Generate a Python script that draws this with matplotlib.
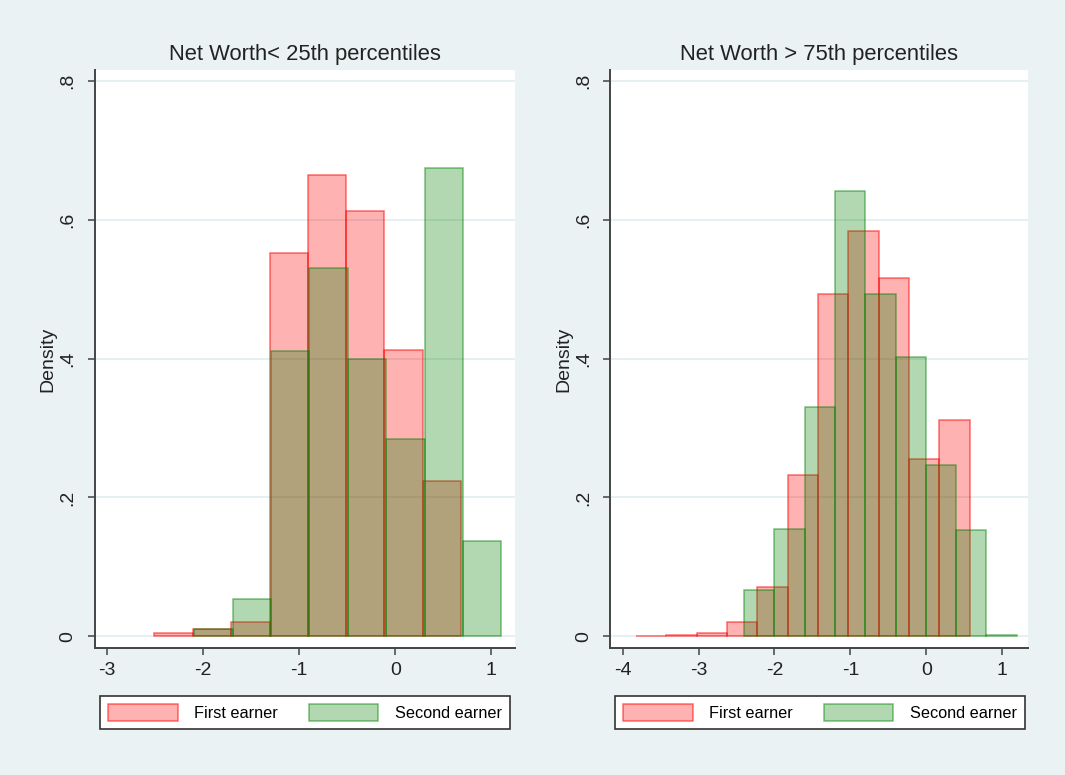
import matplotlib
matplotlib.use("Agg")
import matplotlib.pyplot as plt
from matplotlib.patches import Patch
import numpy as np

plt.rcParams['font.family'] = ['Liberation Sans', 'DejaVu Sans']

# Net Worth < 25th percentile
first_edges_low = [-2.51, -2.11, -1.71, -1.31, -0.91, -0.51, -0.113, 0.287, 0.686]
first_dens_low = [0.004, 0.010, 0.021, 0.552, 0.665, 0.613, 0.413, 0.223]
second_edges_low = [-2.095, -1.695, -1.295, -0.895, -0.495, -0.095, 0.305, 0.705, 1.105]
second_dens_low = [0.010, 0.053, 0.411, 0.530, 0.399, 0.284, 0.675, 0.137]

# Net Worth > 75th percentile
first_edges_high = [-3.825, -3.425, -3.026, -2.626, -2.226, -1.827, -1.427,
                    -1.027, -0.627, -0.228, 0.172, 0.572]
first_dens_high = [0.001, 0.002, 0.005, 0.020, 0.071, 0.232, 0.493, 0.584,
                   0.516, 0.256, 0.311]
second_edges_high = [-2.403, -2.003, -1.604, -1.204, -0.805, -0.405, -0.006,
                     0.394, 0.793, 1.193]
second_dens_high = [0.067, 0.155, 0.330, 0.642, 0.493, 0.403, 0.247, 0.153, 0.002]

titles = ["Net Worth< 25th percentiles", "Net Worth > 75th percentiles"]
series_names = ["First earner", "Second earner"]
yticks = [0, 0.2, 0.4, 0.6, 0.8]
ytick_labels = ["0", ".2", ".4", ".6", ".8"]

bg = '#eaf2f3'
red_face = (1, 0, 0, 0.3)
red_edge = (1, 0, 0, 0.55)
green_face = (0, 0.5, 0, 0.3)
green_edge = (0, 0.5, 0, 0.5)

W, H = 1065, 775
fig = plt.figure(figsize=(W / 100, H / 100), dpi=100, facecolor=bg)

top, bottom = 70, 648
ax1 = fig.add_axes([94.7 / W, (H - bottom) / H, (515 - 94.7) / W, (bottom - top) / H])
ax2 = fig.add_axes([610 / W, (H - bottom) / H, (1028 - 610) / W, (bottom - top) / H])

panels = [
    (ax1, first_edges_low, first_dens_low, second_edges_low, second_dens_low,
     (-3.131, 1.247), [-3, -2, -1, 0, 1], 304.7),
    (ax2, first_edges_high, first_dens_high, second_edges_high, second_dens_high,
     (-4.167, 1.34), [-4, -3, -2, -1, 0, 1], 819.7),
]

for i, (ax, fe, fd, se, sd, xlim, xt, legx) in enumerate(panels):
    ax.set_facecolor('white')
    fe = np.array(fe)
    se = np.array(se)
    ax.bar(fe[:-1], fd, width=np.diff(fe), align='edge',
           facecolor=red_face, edgecolor=red_edge, linewidth=1.1, zorder=2)
    ax.bar(se[:-1], sd, width=np.diff(se), align='edge',
           facecolor=green_face, edgecolor=green_edge, linewidth=1.1, zorder=3)

    ax.set_xlim(*xlim)
    ax.set_ylim(-0.017, 0.816)
    ax.set_xticks(xt)
    ax.set_xticklabels([str(v) for v in xt], fontsize=14, color='#222222')
    ax.set_yticks(yticks)
    ax.set_yticklabels(ytick_labels, rotation=90, va='center', fontsize=14,
                       color='#222222')
    ax.tick_params(direction='out', length=5, width=1.1, color='#444444', pad=5)
    ax.tick_params(axis='y', pad=8)

    ax.yaxis.grid(True, color='#e4eef0', linewidth=1.3)
    ax.set_axisbelow(True)

    for s in ['top', 'right']:
        ax.spines[s].set_visible(False)
    for s in ['left', 'bottom']:
        ax.spines[s].set_color('#444444')
        ax.spines[s].set_linewidth(1.4)

    ax.set_title(titles[i], fontsize=15.8, pad=7, color='#222222')
    ax.set_ylabel("Density", fontsize=14, labelpad=2, color='#222222')

    handles = [Patch(facecolor=red_face, edgecolor=red_edge, linewidth=1.1),
               Patch(facecolor=green_face, edgecolor=green_edge, linewidth=1.1)]
    leg = ax.legend(handles, series_names, loc='center',
                    bbox_to_anchor=(legx / W, 1 - 712.5 / H),
                    bbox_transform=fig.transFigure, ncol=2, fontsize=11.7,
                    frameon=True, fancybox=False, framealpha=1,
                    edgecolor='#333333', handlelength=4.3, handleheight=1.23,
                    handletextpad=1.0, columnspacing=1.9, borderpad=0.5)
    leg.get_frame().set_linewidth(1.2)

fig.savefig("out.png", dpi=100, facecolor=bg)
